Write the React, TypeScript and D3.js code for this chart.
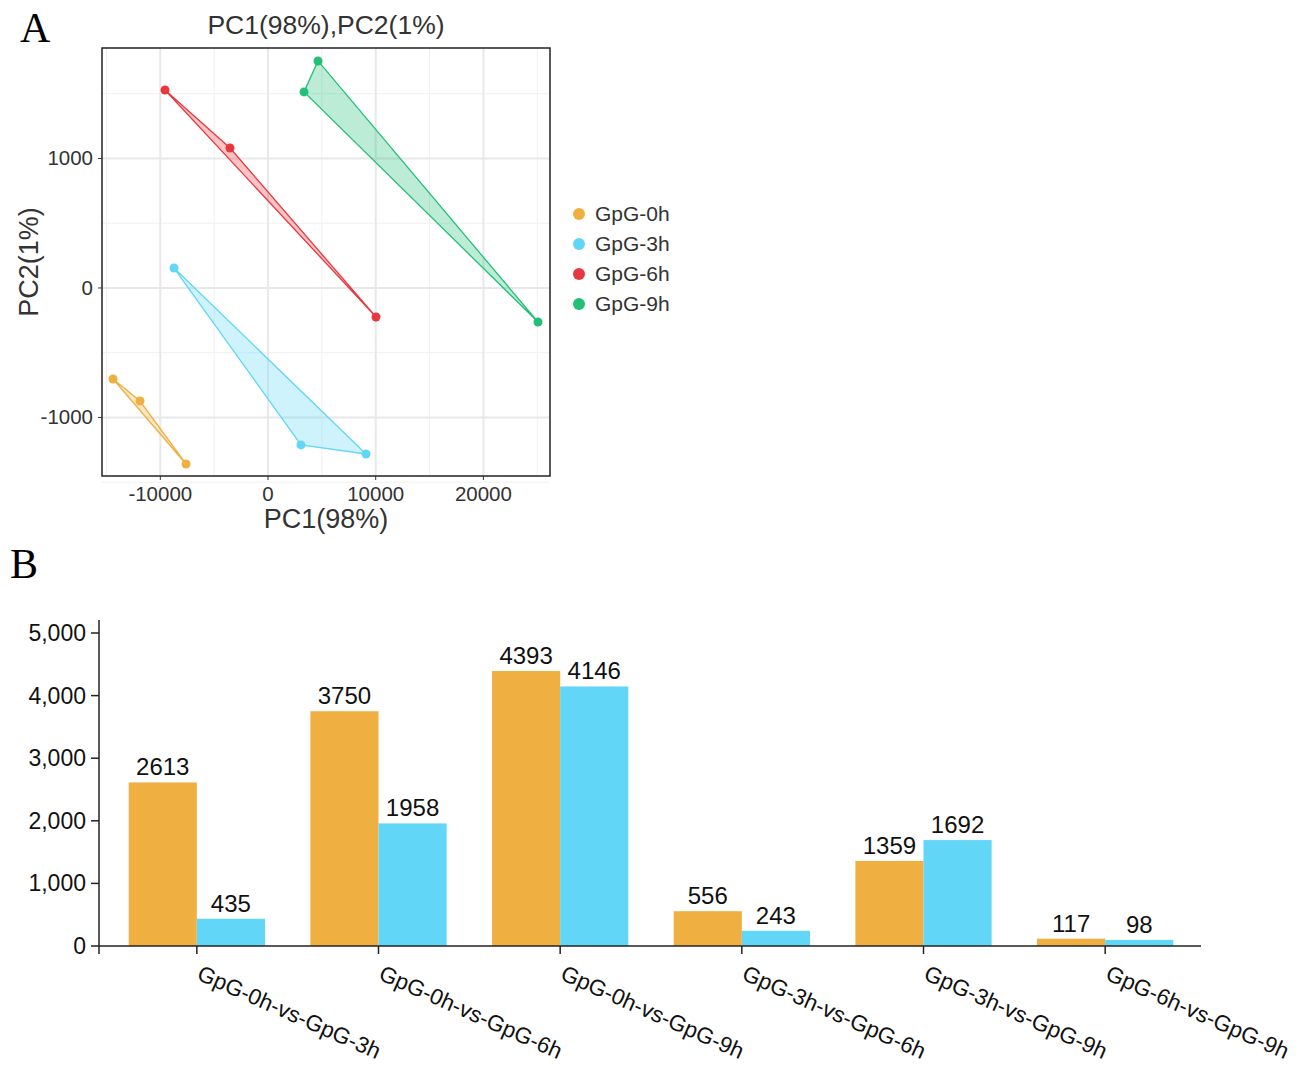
import React from "react";
import * as d3 from "d3";

// PCA scores (PC1, PC2) per sample group
const groups = ["GpG-0h", "GpG-3h", "GpG-6h", "GpG-9h"];
const groupColors = ["#efaf41", "#61d6f6", "#e8383f", "#23bf77"];
const pc1_0h = [-14390, -11885, -7614];
const pc2_0h = [-703, -873, -1359];
const pc1_3h = [-8728, 3064, 9099];
const pc2_3h = [154, -1212, -1282];
const pc1_6h = [-9564, -3528, 10028];
const pc2_6h = [1529, 1081, -224];
const pc1_9h = [4643, 3343, 25070];
const pc2_9h = [1753, 1514, -263];
const pc1Ticks = [-10000, 0, 10000, 20000];
const pc2Ticks = [-1000, 0, 1000];

// DEG counts per comparison
const comparisons = [
  "GpG-0h-vs-GpG-3h",
  "GpG-0h-vs-GpG-6h",
  "GpG-0h-vs-GpG-9h",
  "GpG-3h-vs-GpG-6h",
  "GpG-3h-vs-GpG-9h",
  "GpG-6h-vs-GpG-9h",
];
const seriesA = [2613, 3750, 4393, 556, 1359, 117];
const seriesB = [435, 1958, 4146, 243, 1692, 98];
const barColors = ["#efaf41", "#61d6f6"];
const countTicks = [0, 1000, 2000, 3000, 4000, 5000];

const SANS = "'Liberation Sans', Arial, Helvetica, sans-serif";
const SERIF = "'Liberation Serif', 'Times New Roman', serif";

function PcaPanel() {
  const left = 102, right = 550, top = 48, bottom = 476;
  const x = d3.scaleLinear().domain([-15414, 26184]).range([left, right]);
  const y = d3.scaleLinear().domain([-1452, 1853]).range([bottom, top]);
  const pcs = [
    [pc1_0h, pc2_0h],
    [pc1_3h, pc2_3h],
    [pc1_6h, pc2_6h],
    [pc1_9h, pc2_9h],
  ];
  const xMinor = [-15000, -5000, 5000, 15000, 25000];
  const yMinor = [-1500, -500, 500, 1500];
  return (
    <g>
      <text x={20} y={42} fontFamily={SERIF} fontSize={42}>A</text>
      <text x={326} y={34} textAnchor="middle" fontFamily={SANS} fontSize={26.5} fill="#333">
        PC1(98%),PC2(1%)
      </text>
      <rect x={left} y={top} width={right - left} height={bottom - top} fill="#fff" />
      {xMinor.map((v) => (
        <line key={"xm" + v} x1={x(v)} x2={x(v)} y1={top} y2={bottom} stroke="#f0f0f0" strokeWidth={1} />
      ))}
      {yMinor.map((v) => (
        <line key={"ym" + v} x1={left} x2={right} y1={y(v)} y2={y(v)} stroke="#f0f0f0" strokeWidth={1} />
      ))}
      {pc1Ticks.map((v) => (
        <line key={"xg" + v} x1={x(v)} x2={x(v)} y1={top} y2={bottom} stroke="#e8e8e8" strokeWidth={2} />
      ))}
      {pc2Ticks.map((v) => (
        <line key={"yg" + v} x1={left} x2={right} y1={y(v)} y2={y(v)} stroke="#e8e8e8" strokeWidth={2} />
      ))}
      {pcs.map(([xs, ys], i) => {
        const pts: [number, number][] = xs.map((v, j) => [x(v), y(ys[j])]);
        const hull = d3.polygonHull(pts) || pts;
        return (
          <g key={groups[i]}>
            <path
              d={"M" + hull.map((p) => p.join(",")).join("L") + "Z"}
              fill={groupColors[i]}
              fillOpacity={0.3}
              stroke={groupColors[i]}
              strokeWidth={1.3}
            />
            {pts.map((p, j) => (
              <circle key={j} cx={p[0]} cy={p[1]} r={4.5} fill={groupColors[i]} />
            ))}
          </g>
        );
      })}
      <rect x={left} y={top} width={right - left} height={bottom - top} fill="none" stroke="#222" strokeWidth={1.5} />
      {pc1Ticks.map((v) => (
        <g key={"xt" + v}>
          <line x1={x(v)} x2={x(v)} y1={bottom} y2={bottom + 4} stroke="#333" />
          <text x={x(v)} y={501} textAnchor="middle" fontFamily={SANS} fontSize={20.5} fill="#333">
            {v}
          </text>
        </g>
      ))}
      {pc2Ticks.map((v) => (
        <g key={"yt" + v}>
          <line x1={left - 4} x2={left} y1={y(v)} y2={y(v)} stroke="#333" />
          <text x={93} y={y(v) + 7} textAnchor="end" fontFamily={SANS} fontSize={20.5} fill="#333">
            {v}
          </text>
        </g>
      ))}
      <text x={326} y={528} textAnchor="middle" fontFamily={SANS} fontSize={27} fill="#333">
        PC1(98%)
      </text>
      <text
        transform={`translate(38,262) rotate(-90)`}
        textAnchor="middle"
        fontFamily={SANS}
        fontSize={27}
        fill="#333"
      >
        PC2(1%)
      </text>
      {groups.map((g, i) => (
        <g key={g} transform={`translate(579,${214 + i * 30})`}>
          <circle r={6} fill={groupColors[i]} />
          <text x={16} y={7} fontFamily={SANS} fontSize={21} fill="#333">
            {g}
          </text>
        </g>
      ))}
    </g>
  );
}

function BarPanel() {
  const axisX = 99;
  const base = 946;
  const y = d3.scaleLinear().domain([0, 5000]).range([base, 633]);
  const x = d3.scaleBand<string>().domain(comparisons).range([106, 1196]).paddingInner(0.25).paddingOuter(0.125);
  const sub = d3.scaleBand<number>().domain([0, 1]).range([0, x.bandwidth()]);
  const fmt = d3.format(",");
  const series = [seriesA, seriesB];
  return (
    <g>
      <text x={10} y={578} fontFamily={SERIF} fontSize={42}>B</text>
      {comparisons.map((c, i) => (
        <g key={c}>
          {series.map((s, k) => (
            <g key={k}>
              <rect
                x={(x(c) as number) + (sub(k) as number)}
                y={y(s[i])}
                width={sub.bandwidth()}
                height={base - y(s[i])}
                fill={barColors[k]}
              />
              <text
                x={(x(c) as number) + (sub(k) as number) + sub.bandwidth() / 2}
                y={y(s[i]) - 7}
                textAnchor="middle"
                fontFamily={SANS}
                fontSize={24}
                fill="#111"
              >
                {s[i]}
              </text>
            </g>
          ))}
        </g>
      ))}
      <line x1={axisX} x2={1201} y1={base} y2={base} stroke="#222" strokeWidth={1.5} />
      <line x1={axisX} x2={axisX} y1={620} y2={954} stroke="#222" strokeWidth={1.5} />
      {countTicks.map((v) => (
        <g key={v}>
          <line x1={axisX - 8} x2={axisX} y1={y(v)} y2={y(v)} stroke="#222" strokeWidth={1.5} />
          <text x={86} y={y(v) + 8} textAnchor="end" fontFamily={SANS} fontSize={23} fill="#111">
            {fmt(v)}
          </text>
        </g>
      ))}
      {comparisons.map((c) => {
        const cx = (x(c) as number) + x.bandwidth() / 2;
        return (
          <g key={c}>
            <line x1={cx} x2={cx} y1={base} y2={base + 8} stroke="#222" strokeWidth={1.5} />
            <text
              transform={`translate(${cx - 1},979) rotate(24)`}
              fontFamily={SANS}
              fontSize={22.5}
              fill="#111"
            >
              {c}
            </text>
          </g>
        );
      })}
    </g>
  );
}

export default function App() {
  return (
    <div style={{ position: "absolute", left: 0, top: 0 }}>
      <svg width={1308} height={1065} style={{ display: "block", background: "#fff" }}>
        <PcaPanel />
        <BarPanel />
      </svg>
    </div>
  );
}
